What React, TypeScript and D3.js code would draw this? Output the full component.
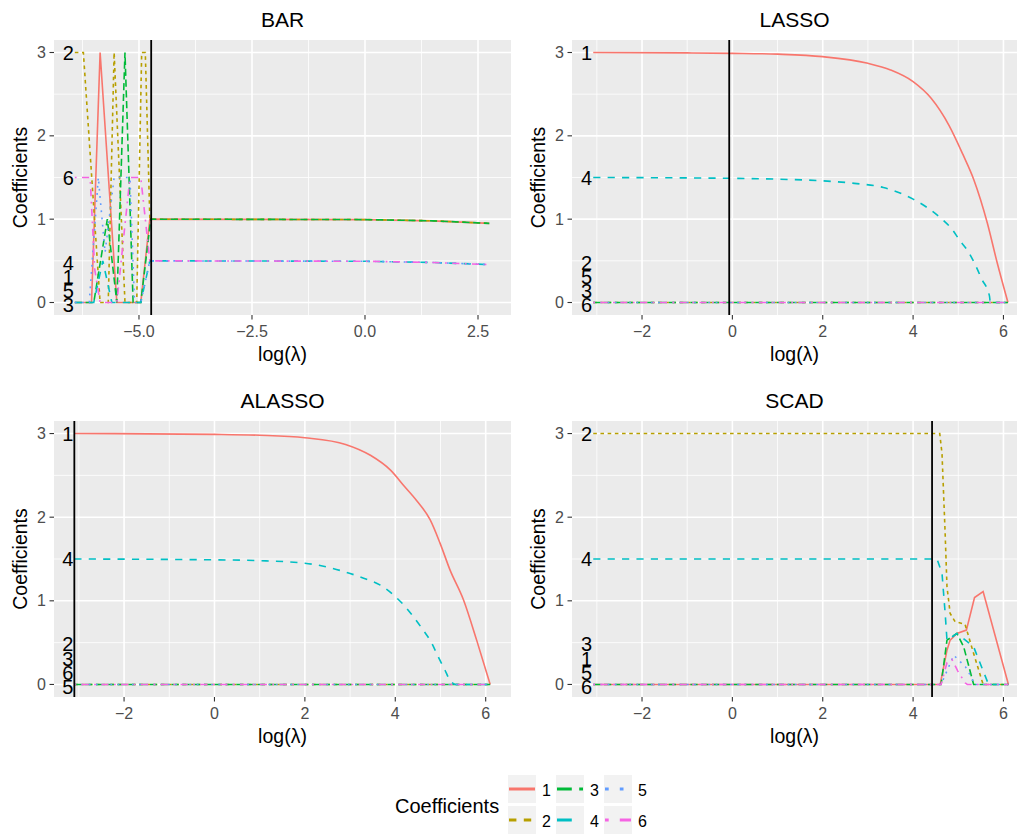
import * as d3 from "d3";

// coefficient ids, colours and ggplot linetypes (dash units)
const coefIds = ["1", "2", "3", "4", "5", "6"];
const coefColors = ["#F8766D", "#B79F00", "#00BA38", "#00BFC4", "#619CFF", "#F564E3"];
const dashUnits = [[], [2, 2], [4, 2], [4, 4], [1, 3], [1, 3, 4, 3]];

// BAR paths [log(lambda), coefficient]
const barPath1 = [[-6.42, 0], [-6.05, 0], [-5.86, 3], [-5.49, 0], [-4.96, 0], [-4.76, 1], [0, 0.995], [1.5, 0.98], [2.75, 0.95]];
const barPath2 = [[-6.42, 3], [-6.23, 3], [-5.86, 0], [-5.68, 0], [-5.55, 3], [-5.31, 0], [-5.05, 0], [-4.94, 3], [-4.86, 3], [-4.76, 1], [0, 0.995], [1.5, 0.98], [2.75, 0.95]];
const barPath3 = [[-6.42, 0], [-6.0, 0], [-5.7, 1], [-5.49, 0], [-5.31, 3], [-5.13, 0], [-4.96, 0], [-4.74, 1], [0, 0.995], [1.5, 0.98], [2.75, 0.95]];
const barPath4 = [[-6.42, 0], [-6.0, 0], [-5.8, 0.5], [-5.6, 0], [-4.96, 0], [-4.76, 0.5], [0, 0.495], [1.5, 0.48], [2.75, 0.455]];
const barPath5 = [[-6.42, 0], [-6.1, 0], [-5.9, 1.5], [-5.75, 0.6], [-5.55, 1.5], [-5.2, 1.5], [-5.1, 0], [-4.96, 0], [-4.76, 0.5], [0, 0.495], [1.5, 0.48], [2.75, 0.455]];
const barPath6 = [[-6.42, 1.5], [-6.08, 1.5], [-5.98, 0.4], [-5.86, 0], [-5.49, 0], [-5.2, 1.5], [-4.96, 1.5], [-4.76, 0.5], [0, 0.495], [1.5, 0.48], [2.75, 0.455]];
const barLabelY = [0.31, 3, -0.03, 0.48, 0.14, 1.5];

// LASSO
const lassoPath1 = [[-3.08, 3], [-1, 2.995], [0, 2.99], [1, 2.98], [2, 2.95], [3, 2.87], [3.5, 2.79], [4, 2.65], [4.4, 2.45], [4.8, 2.12], [5.1, 1.78], [5.34, 1.48], [5.49, 1.24], [5.64, 0.96], [5.86, 0.48], [6.1, 0]];
const lassoPath4 = [[-3.08, 1.5], [0, 1.49], [1, 1.48], [2, 1.46], [2.7, 1.43], [3.34, 1.38], [4.0, 1.24], [4.31, 1.14], [4.64, 1.0], [4.86, 0.88], [5.04, 0.74], [5.21, 0.62], [5.37, 0.46], [5.52, 0.28], [5.69, 0.08], [5.71, 0], [6.1, 0]];
const lassoZero = [[-3.08, 0], [6.1, 0]];
const lassoLabelY = [3, 0.48, 0.14, 1.5, 0.31, -0.03];

// ALASSO
const alassoPath1 = [[-3.1, 3], [0, 2.99], [1, 2.98], [2, 2.95], [2.9, 2.87], [3.45, 2.74], [3.9, 2.56], [4.2, 2.37], [4.47, 2.2], [4.77, 1.97], [4.99, 1.69], [5.21, 1.37], [5.51, 1.01], [5.8, 0.53], [6.1, 0]];
const alassoPath4 = [[-3.1, 1.5], [0, 1.49], [1, 1.48], [2, 1.45], [2.8, 1.36], [3.3, 1.27], [3.66, 1.19], [3.96, 1.07], [4.22, 0.93], [4.4, 0.81], [4.59, 0.67], [4.81, 0.49], [4.95, 0.33], [5.1, 0.17], [5.21, 0.05], [5.34, 0], [6.1, 0]];
const alassoZero = [[-3.1, 0], [6.1, 0]];
const alassoLabelY = [3, 0.48, 0.31, 1.5, -0.03, 0.14];

// SCAD
const scadPath1 = [[-3.08, 0], [4.6, 0], [4.75, 0.41], [4.82, 0.53], [4.97, 0.61], [5.18, 0.65], [5.36, 1.04], [5.55, 1.11], [6.11, 0]];
const scadPath2 = [[-3.08, 3], [4.59, 3], [4.64, 2.76], [4.71, 1.8], [4.75, 1.17], [4.82, 0.85], [4.93, 0.75], [5.15, 0.72], [5.34, 0.37], [5.55, 0], [6.11, 0]];
const scadPath3 = [[-3.08, 0], [4.62, 0], [4.75, 0.53], [4.97, 0.61], [5.12, 0.45], [5.34, 0], [6.11, 0]];
const scadPath4 = [[-3.08, 1.5], [4.53, 1.5], [4.64, 1.33], [4.71, 0.85], [4.75, 0.53], [4.82, 0.55], [4.97, 0.61], [5.34, 0.45], [5.67, 0], [6.11, 0]];
const scadPath5 = [[-3.08, 0], [4.62, 0], [4.9, 0.35], [5.16, 0.21], [5.3, 0.08], [5.35, 0], [6.11, 0]];
const scadPath6 = [[-3.08, 0], [4.62, 0], [4.75, 0.26], [4.86, 0.3], [4.99, 0.16], [5.15, 0.02], [5.2, 0], [6.11, 0]];
const scadLabelY = [0.31, 3, 0.48, 1.5, 0.14, -0.03];

const barTicks = [-5, -2.5, 0, 2.5];
const barMinor = [-6.25, -3.75, -1.25, 1.25];
const otherTicks = [-2, 0, 2, 4, 6];
const otherMinor = [-3, -1, 1, 3, 5];
const yTicks = [0, 1, 2, 3];
const yMinor = [0.5, 1.5, 2.5];

const FONT = "'Liberation Sans', Arial, Helvetica, sans-serif";

const panels = [
  { title: "BAR", left: 54, right: 511, top: 40, bottom: 315, xDomain: [-6.88, 3.23], ticks: barTicks, minor: barMinor, fmt: ".1f", smooth: false,
    paths: [barPath1, barPath2, barPath3, barPath4, barPath5, barPath6], labelY: barLabelY, vline: -4.73 },
  { title: "LASSO", left: 572, right: 1017, top: 40, bottom: 315, xDomain: [-3.55, 6.3], ticks: otherTicks, minor: otherMinor, fmt: "d", smooth: true,
    paths: [lassoPath1, lassoZero, lassoZero, lassoPath4, lassoZero, lassoZero], labelY: lassoLabelY, vline: -0.07 },
  { title: "ALASSO", left: 54, right: 511, top: 421, bottom: 697, xDomain: [-3.55, 6.56], ticks: otherTicks, minor: otherMinor, fmt: "d", smooth: true,
    paths: [alassoPath1, alassoZero, alassoZero, alassoPath4, alassoZero, alassoZero], labelY: alassoLabelY, vline: -3.1 },
  { title: "SCAD", left: 572, right: 1017, top: 421, bottom: 697, xDomain: [-3.55, 6.3], ticks: otherTicks, minor: otherMinor, fmt: "d", smooth: false,
    paths: [scadPath1, scadPath2, scadPath3, scadPath4, scadPath5, scadPath6], labelY: scadLabelY, vline: 4.42 },
];

const Panel = ({ p }) => {
  const x = d3.scaleLinear().domain(p.xDomain).range([p.left, p.right]);
  const y = d3.scaleLinear().domain([-0.15, 3.15]).range([p.bottom, p.top]);
  const line = d3.line().x((d) => x(d[0])).y((d) => y(d[1]))
    .curve(p.smooth ? d3.curveMonotoneX : d3.curveLinear);
  const fmt = d3.format(p.fmt);
  const cx = (p.left + p.right) / 2;
  const cy = (p.top + p.bottom) / 2;
  const x0 = p.paths[0][0][0];
  return (
    <g>
      <rect x={p.left} y={p.top} width={p.right - p.left} height={p.bottom - p.top} fill="#EBEBEB" />
      {p.minor.map((t) => (
        <line key={"mx" + t} x1={x(t)} x2={x(t)} y1={p.top} y2={p.bottom} stroke="#fff" strokeWidth={0.8} />
      ))}
      {yMinor.map((t) => (
        <line key={"my" + t} x1={p.left} x2={p.right} y1={y(t)} y2={y(t)} stroke="#fff" strokeWidth={0.8} />
      ))}
      {p.ticks.map((t) => (
        <line key={"gx" + t} x1={x(t)} x2={x(t)} y1={p.top} y2={p.bottom} stroke="#fff" strokeWidth={1.6} />
      ))}
      {yTicks.map((t) => (
        <line key={"gy" + t} x1={p.left} x2={p.right} y1={y(t)} y2={y(t)} stroke="#fff" strokeWidth={1.6} />
      ))}
      {p.paths.map((path, i) => (
        <path key={"l" + i} d={line(path)} fill="none" stroke={coefColors[i]} strokeWidth={1.6}
          strokeDasharray={dashUnits[i].length ? dashUnits[i].map((u) => u * 1.8).join(" ") : undefined} />
      ))}
      <line x1={x(p.vline)} x2={x(p.vline)} y1={p.top} y2={p.bottom} stroke="#000" strokeWidth={1.8} />
      {coefIds.map((id, i) => (
        <text key={"lab" + id} x={x(x0) - 1} y={y(p.labelY[i])} textAnchor="end" dominantBaseline="central"
          fontSize={20} fontFamily={FONT} fill="#000">{id}</text>
      ))}
      {/* axes */}
      {yTicks.map((t) => (
        <g key={"ty" + t}>
          <line x1={p.left - 4.5} x2={p.left} y1={y(t)} y2={y(t)} stroke="#333" strokeWidth={1.1} />
          <text x={p.left - 8} y={y(t)} textAnchor="end" dominantBaseline="central" fontSize={16} fontFamily={FONT} fill="#4D4D4D">{t}</text>
        </g>
      ))}
      {p.ticks.map((t) => (
        <g key={"tx" + t}>
          <line x1={x(t)} x2={x(t)} y1={p.bottom} y2={p.bottom + 4.5} stroke="#333" strokeWidth={1.1} />
          <text x={x(t)} y={p.bottom + 22} textAnchor="middle" fontSize={16} fontFamily={FONT} fill="#4D4D4D">{fmt(t)}</text>
        </g>
      ))}
      <text x={cx} y={p.top - 13} textAnchor="middle" fontSize={21} fontFamily={FONT} fill="#000">{p.title}</text>
      <text x={cx} y={p.bottom + 46} textAnchor="middle" fontSize={19.5} fontFamily={FONT} fill="#000">log(λ)</text>
      <text transform={`translate(${p.left - 27},${cy}) rotate(-90)`} textAnchor="middle" fontSize={19.5} fontFamily={FONT} fill="#000">Coefficients</text>
    </g>
  );
};

const Legend = () => {
  const keyX = [508, 556, 604];
  const keyY = [775, 806];
  return (
    <g>
      <text x={395} y={813} fontSize={20} fontFamily={FONT} fill="#000">Coefficients</text>
      {coefIds.map((id, i) => {
        const kx = keyX[Math.floor(i / 2)];
        const ky = keyY[i % 2];
        return (
          <g key={"k" + id}>
            <rect x={kx} y={ky} width={28} height={28} fill="#F2F2F2" />
            <line x1={kx + 1} x2={kx + 27} y1={ky + 14} y2={ky + 14} stroke={coefColors[i]} strokeWidth={3}
              strokeDasharray={dashUnits[i].length ? dashUnits[i].map((u) => u * 3.7).join(" ") : undefined} />
            <text x={kx + 34} y={ky + 21} fontSize={16} fontFamily={FONT} fill="#000">{id}</text>
          </g>
        );
      })}
    </g>
  );
};

export default function App() {
  return (
    <svg width={1024} height={834} style={{ position: "absolute", left: 0, top: 0, background: "#fff" }}>
      <rect width={1024} height={834} fill="#fff" />
      {panels.map((p) => (
        <Panel key={p.title} p={p} />
      ))}
      <Legend />
    </svg>
  );
}
